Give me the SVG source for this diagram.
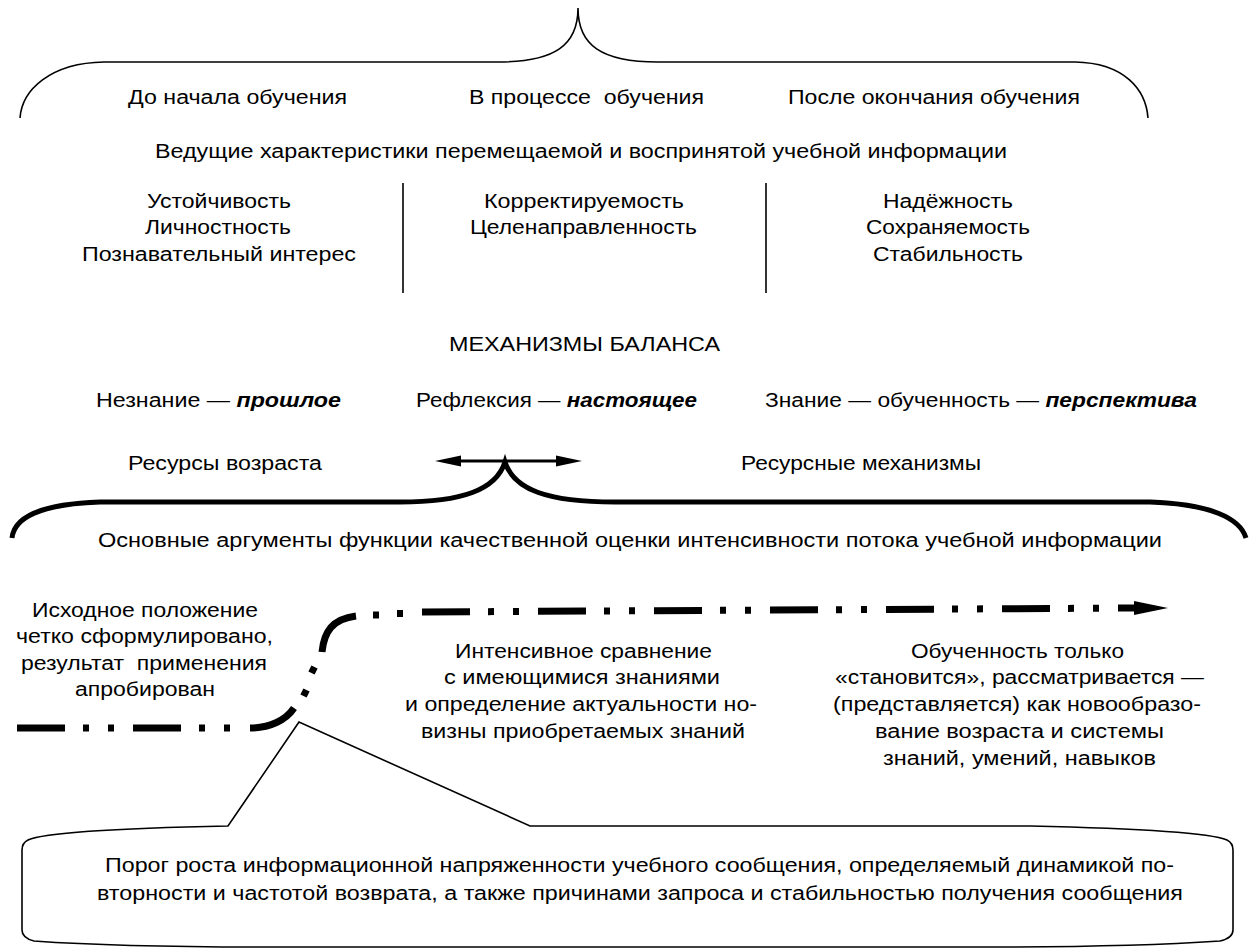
<svg xmlns="http://www.w3.org/2000/svg" width="1252" height="950" viewBox="0 0 1252 950">
<style>
text{font-family:"Liberation Sans",Arial,Helvetica,sans-serif;font-size:20px;fill:#000}
.bi{font-weight:bold;font-style:italic}
.thin{fill:none;stroke:#000;stroke-width:1.6}
.thick{fill:none;stroke:#000;stroke-width:5}
.dd{fill:none;stroke:#000;stroke-width:7;stroke-dasharray:48 18 6 19 6 19}
.dl{fill:none;stroke:#000;stroke-width:7}
.head{fill:#000}
</style>
<rect width="1252" height="950" fill="#fff"/>

<g id="connectors">
  <path id="top-brace" class="thin" d="M20,118 C22,90 50,63 104,62 H498 C555,62 578,45 578,8 C578,45 601,62 658,62 H1075 C1125,63 1146,90 1148,118"/>
  <line class="thin" x1="403" y1="183" x2="403" y2="293"/>
  <line class="thin" x1="766" y1="183" x2="766" y2="293"/>
  <path id="bottom-brace" class="thick" d="M12,538 C14,518 40,504 100,502 H400 C462,502 496,490 505,462 C514,490 548,502 615,502 H1150 C1210,504 1240,518 1246,538"/>
  <g id="double-arrow">
    <line x1="455" y1="461" x2="562" y2="461" stroke="#000" stroke-width="3"/>
    <polygon class="head" points="435,461 461,455.5 461,466.5"/>
    <polygon class="head" points="582,461 556,455.5 556,466.5"/>
  </g>
  <g id="flow-line">
    <path class="dd" d="M17,728 H247"/>
    <path class="dl" d="M250,728 C270,728 286,720 294,708"/>
    <path class="dl" d="M303.5,696 L306.5,690"/>
    <path class="dl" d="M311.5,673 L314.5,667"/>
    <path class="dl" d="M322,652 C324,632 332,619 356,616"/>
    <path class="dl" d="M373,615 H379"/>
    <path class="dl" d="M397,613.5 H403"/>
    <path class="dd" d="M422,612 L1140,608"/>
    <polygon class="head" points="1134,601 1168,608 1134,615"/>
  </g>
</g>

<g id="phases">
  <text x="128" y="104" textLength="219" lengthAdjust="spacingAndGlyphs">До начала обучения</text>
  <text x="469" y="104" textLength="235" lengthAdjust="spacingAndGlyphs" xml:space="preserve">В процессе  обучения</text>
  <text x="788" y="104" textLength="292" lengthAdjust="spacingAndGlyphs">После окончания обучения</text>
</g>

<g id="characteristics-title">
  <text x="155" y="158" textLength="852" lengthAdjust="spacingAndGlyphs">Ведущие характеристики перемещаемой и воспринятой учебной информации</text>
</g>

<g id="col-before">
  <text x="147" y="208" textLength="144" lengthAdjust="spacingAndGlyphs">Устойчивость</text>
  <text x="145" y="234" textLength="146" lengthAdjust="spacingAndGlyphs">Личностность</text>
  <text x="82" y="261" textLength="274" lengthAdjust="spacingAndGlyphs">Познавательный интерес</text>
</g>
<g id="col-during">
  <text x="484" y="208" textLength="200" lengthAdjust="spacingAndGlyphs">Корректируемость</text>
  <text x="470" y="234" textLength="227" lengthAdjust="spacingAndGlyphs">Целенаправленность</text>
</g>
<g id="col-after">
  <text x="883" y="208" textLength="130" lengthAdjust="spacingAndGlyphs">Надёжность</text>
  <text x="866" y="234" textLength="164" lengthAdjust="spacingAndGlyphs">Сохраняемость</text>
  <text x="873" y="261" textLength="150" lengthAdjust="spacingAndGlyphs">Стабильность</text>
</g>

<g id="balance-title">
  <text x="449" y="351" textLength="271" lengthAdjust="spacingAndGlyphs">МЕХАНИЗМЫ БАЛАНСА</text>
</g>

<g id="balance-row">
  <text x="96" y="407" textLength="245" lengthAdjust="spacingAndGlyphs">Незнание — <tspan class="bi">прошлое</tspan></text>
  <text x="416" y="407" textLength="281" lengthAdjust="spacingAndGlyphs">Рефлексия — <tspan class="bi">настоящее</tspan></text>
  <text x="765" y="407" textLength="432" lengthAdjust="spacingAndGlyphs">Знание — обученность — <tspan class="bi">перспектива</tspan></text>
</g>

<g id="resources">
  <text x="128" y="470" textLength="194" lengthAdjust="spacingAndGlyphs">Ресурсы возраста</text>
  <text x="741" y="470" textLength="240" lengthAdjust="spacingAndGlyphs">Ресурсные механизмы</text>
</g>

<g id="arguments-title">
  <text x="98" y="547" textLength="1064" lengthAdjust="spacingAndGlyphs">Основные аргументы функции качественной оценки интенсивности потока учебной информации</text>
</g>

<g id="block-left">
  <text x="32" y="617" textLength="226" lengthAdjust="spacingAndGlyphs">Исходное положение</text>
  <text x="16" y="643" textLength="257" lengthAdjust="spacingAndGlyphs">четко сформулировано,</text>
  <text x="21" y="670" textLength="246" lengthAdjust="spacingAndGlyphs" xml:space="preserve">результат  применения</text>
  <text x="75" y="696" textLength="140" lengthAdjust="spacingAndGlyphs">апробирован</text>
</g>

<g id="block-middle">
  <text x="455" y="658" textLength="257" lengthAdjust="spacingAndGlyphs">Интенсивное сравнение</text>
  <text x="444" y="684" textLength="276" lengthAdjust="spacingAndGlyphs">с имеющимися знаниями</text>
  <text x="405" y="711" textLength="352" lengthAdjust="spacingAndGlyphs">и определение актуальности но-</text>
  <text x="421" y="738" textLength="324" lengthAdjust="spacingAndGlyphs">визны приобретаемых знаний</text>
</g>

<g id="block-right">
  <text x="911" y="658" textLength="213" lengthAdjust="spacingAndGlyphs">Обученность только</text>
  <text x="835" y="684" textLength="369" lengthAdjust="spacingAndGlyphs">«становится», рассматривается —</text>
  <text x="833" y="711" textLength="368" lengthAdjust="spacingAndGlyphs">(представляется) как новообразо-</text>
  <text x="875" y="738" textLength="289" lengthAdjust="spacingAndGlyphs">вание возраста и системы</text>
  <text x="883" y="765" textLength="273" lengthAdjust="spacingAndGlyphs">знаний, умений, навыков</text>
</g>

<g id="callout">
  <path class="thin" stroke-width="2" d="M299,722 L228,826 C130,828 45,832 28,840 Q22,843 22,850 L22,930 Q22,938 34,941 C90,945 170,947 260,947 L990,947 C1080,947 1160,945 1220,941 Q1233,938 1233,930 L1233,850 Q1233,843 1227,840 C1208,832 1120,828 1030,826 L530,826 Z"/>
  <text x="105" y="872" textLength="1069" lengthAdjust="spacingAndGlyphs">Порог роста информационной напряженности учебного сообщения, определяемый динамикой по-</text>
  <text x="97" y="900" textLength="1086" lengthAdjust="spacingAndGlyphs">вторности и частотой возврата, а также причинами запроса и стабильностью получения сообщения</text>
</g>
</svg>
